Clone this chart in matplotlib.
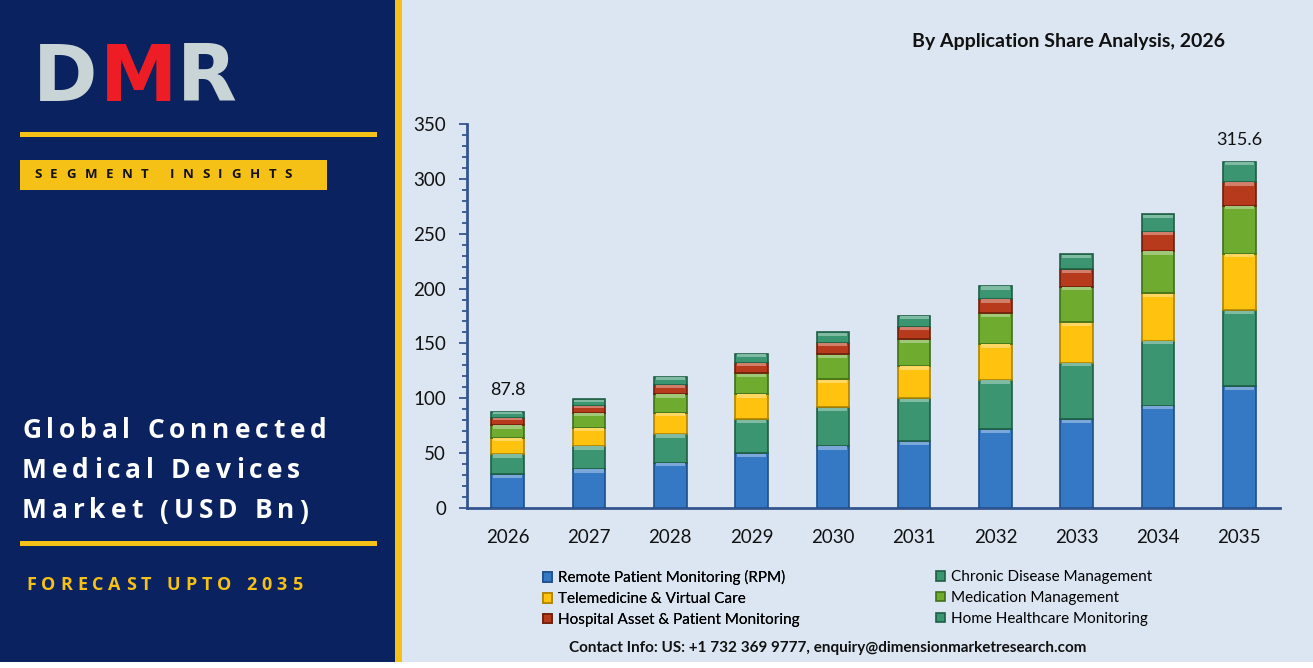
import matplotlib.pyplot as plt
from matplotlib.patches import Rectangle
from matplotlib.colors import to_rgb
import numpy as np

W, H = 1313, 668

# data (USD Bn)
years = ['2026', '2027', '2028', '2029', '2030', '2031', '2032', '2033', '2034', '2035']
rpm = [30.7, 35.5, 41.3, 49.9, 56.5, 61.0, 71.7, 80.9, 93.3, 110.8]
chronic = [18.5, 21.0, 26.2, 31.0, 35.3, 39.0, 45.0, 51.6, 59.2, 69.3]
telemed = [14.9, 16.7, 19.4, 23.0, 25.5, 29.4, 32.8, 36.8, 43.2, 51.7]
medication = [11.6, 13.7, 17.0, 18.9, 22.8, 24.4, 28.0, 32.5, 38.6, 43.8]
hospital = [6.6, 6.1, 8.5, 9.7, 10.6, 11.5, 13.0, 15.8, 17.6, 21.6]
home = [5.5, 6.1, 7.0, 7.9, 9.5, 10.0, 11.9, 13.7, 15.8, 18.4]

series = [
    ('Remote Patient Monitoring (RPM)', rpm, '#3578c4', '#1f4f8a'),
    ('Chronic Disease Management', chronic, '#3a9570', '#1f5e44'),
    ('Telemedicine & Virtual Care', telemed, '#ffc20e', '#b08400'),
    ('Medication Management', medication, '#6eab2f', '#41701a'),
    ('Hospital Asset & Patient Monitoring', hospital, '#b83a1c', '#6e1f0c'),
    ('Home Healthcare Monitoring', home, '#3a9570', '#1f5e44'),
]
labelled = {0: '87.8', 9: '315.6'}

navy = '#0b2260'
gold = '#f5c116'
panel = '#dce6f2'


def fx(x):
    return x / W


def fy(y):
    return 1 - y / H


def lighter(c, k=0.35):
    r, g, b = to_rgb(c)
    return (r + (1 - r) * k, g + (1 - g) * k, b + (1 - b) * k)


fig = plt.figure(figsize=(W / 100, H / 100), dpi=100, facecolor='white')


def box(x0, y0, x1, y1, color, z=-5):
    # rectangle in pixel coords (top-left origin)
    fig.patches.append(Rectangle((fx(x0), fy(y1)), fx(x1) - fx(x0), fy(y0) - fy(y1),
                                 transform=fig.transFigure, facecolor=color,
                                 edgecolor='none', zorder=z))


# background panels
box(0, 0, 395, 662, navy)
box(395, 0, 402, 662, gold)
box(402, 0, W, 662, panel)

# left panel decorations
box(20, 132, 377, 137, gold, -4)
box(20, 160, 327, 190, gold, -4)
box(20, 541, 377, 546, gold, -4)

renderer = fig.canvas.get_renderer()


def spaced(x, y, s, size, color, gap, family='Open Sans', weight='bold'):
    for ch in s:
        if ch == ' ':
            x += size * 0.28 * 100 / 72 + gap
            continue
        t = fig.text(fx(x), fy(y), ch, fontsize=size, color=color, family=family,
                     weight=weight, ha='left', va='center')
        x += t.get_window_extent(renderer).width + gap


# DMR logo
fig.text(fx(33), fy(79), 'D', fontsize=56, color='#c9d4d6', family='DejaVu Sans',
         weight='bold', ha='left', va='center')
fig.text(fx(100), fy(79), 'M', fontsize=56, color='#ee1c24', family='DejaVu Sans',
         weight='bold', ha='left', va='center')
fig.text(fx(177), fy(79), 'R', fontsize=56, color='#c9d4d6', family='DejaVu Sans',
         weight='bold', ha='left', va='center')

spaced(34, 175, 'SEGMENT INSIGHTS', 9.5, '#111111', 8.6)
spaced(22, 431, 'Global Connected', 19, 'white', 4.9)
spaced(22, 471, 'Medical Devices', 19, 'white', 4.9)
spaced(22, 511, 'Market (USD Bn)', 19, 'white', 4.9)
spaced(26, 585, 'FORECAST UPTO 2035', 13, gold, 5.0)

# chart
ax = fig.add_axes([fx(467), fy(508), fx(1280) - fx(467), fy(124) - fy(508)])
ax.set_zorder(2)
ax.set_facecolor('none')
x = np.arange(len(years))
bottom = np.zeros(len(years))
handles = []
for name, vals, col, edge in series:
    vals = np.array(vals)
    b = ax.bar(x, vals, 0.4, bottom=bottom, color=col, edgecolor=edge, linewidth=1.2,
               label=name, zorder=3)
    handles.append(b)
    # bevel highlight at the top of each segment
    hl = np.minimum(vals * 0.3, 3.0)
    ax.bar(x, hl, 0.36, bottom=bottom + vals - hl - 0.4, color=lighter(col), linewidth=0,
           zorder=4)
    bottom += vals

for i, txt in labelled.items():
    ax.annotate(txt, (x[i], bottom[i]), xytext=(0, 10), textcoords='offset points',
                ha='center', va='bottom', fontsize=13, family='Lato', color='#111111')

ax.set_xlim(-0.5, len(years) - 0.5)
ax.set_ylim(0, 350)
ax.set_yticks(np.arange(0, 351, 50))
ax.set_yticks(np.arange(0, 351, 10), minor=True)
ax.set_xticks(x)
ax.set_xticklabels(years)
for s in ['top', 'right']:
    ax.spines[s].set_visible(False)
for s in ['left', 'bottom']:
    ax.spines[s].set_color('#35558f')
    ax.spines[s].set_linewidth(2)
ax.tick_params(axis='y', which='major', direction='out', length=6, width=1.3, color='#35558f',
               pad=9, labelsize=13.5)
ax.tick_params(axis='y', which='minor', direction='out', length=3.5, width=1.3, color='#35558f')
ax.tick_params(axis='x', length=0, pad=15, labelsize=13.5)
for lab in ax.get_xticklabels() + ax.get_yticklabels():
    lab.set_family('Lato')
    lab.set_color('#111111')

# legend in two columns
leg1 = fig.legend([handles[0], handles[2], handles[4]],
                  [series[0][0], series[2][0], series[4][0]],
                  loc='upper left', bbox_to_anchor=(fx(537), fy(564)), frameon=False,
                  prop={'family': 'Lato', 'size': 11}, handlelength=0.6, handleheight=0.6,
                  handletextpad=0.35, labelspacing=0.45, borderaxespad=0)
leg2 = fig.legend([handles[1], handles[3], handles[5]],
                  [series[1][0], series[3][0], series[5][0]],
                  loc='upper left', bbox_to_anchor=(fx(930), fy(564)), frameon=False,
                  prop={'family': 'Lato', 'size': 11}, handlelength=0.6, handleheight=0.6,
                  handletextpad=0.35, labelspacing=0.45, borderaxespad=0)
fig.add_artist(leg1)

fig.text(fx(1068), fy(42), 'By Application Share Analysis, 2026', fontsize=14, weight='bold',
         family='Lato', ha='center', va='center', color='#111111')
fig.text(fx(828), fy(648), 'Contact Info: US: +1 732 369 9777, enquiry@dimensionmarketresearch.com',
         fontsize=11, weight='bold', family='Lato', ha='center', va='center', color='#111111')

fig.savefig('out.png', dpi=100, facecolor='white')
